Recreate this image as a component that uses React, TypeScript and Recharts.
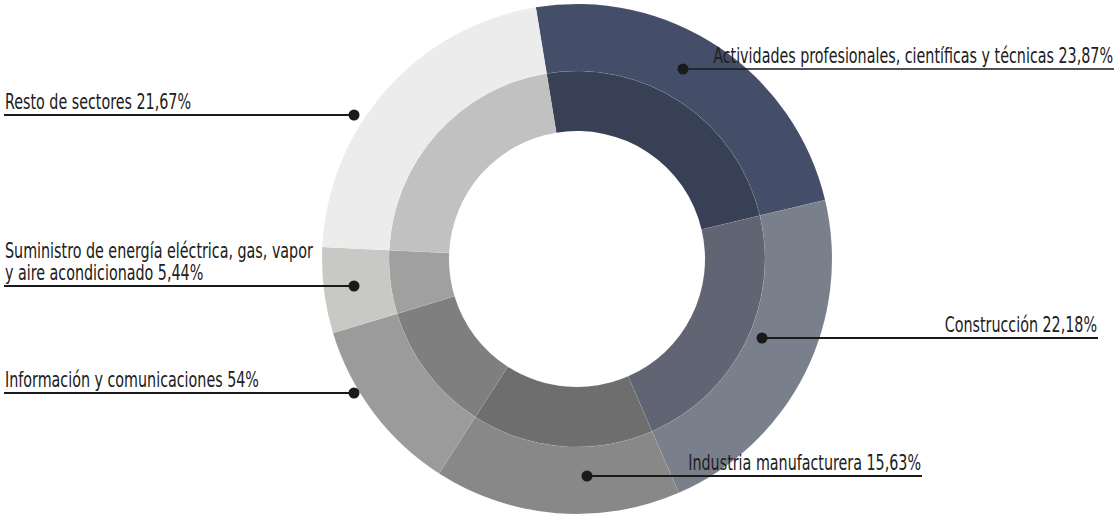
import { PieChart, Pie, Cell } from "recharts";

// sectores, en orden horario desde arriba
const categories = [
  "Actividades profesionales, científicas y técnicas",
  "Construcción",
  "Industria manufacturera",
  "Información y comunicaciones",
  "Suministro de energía eléctrica, gas, vapor y aire acondicionado",
  "Resto de sectores",
];
const shares = [23.87, 22.18, 15.63, 11.21, 5.44, 21.67];
const shareLabels = ["23,87%", "22,18%", "15,63%", "54%", "5,44%", "21,67%"];
// cómo se parte cada etiqueta en líneas
const labelLines = [
  ["Actividades profesionales, científicas y técnicas 23,87%"],
  ["Construcción 22,18%"],
  ["Industria manufacturera 15,63%"],
  ["Información y comunicaciones 54%"],
  ["Suministro de energía eléctrica, gas, vapor", "y aire acondicionado 5,44%"],
  ["Resto de sectores 21,67%"],
];

const OUTER_COLORS = ["#444e69", "#7a7f8c", "#888888", "#9b9b9b", "#c8c8c4", "#ececec"];
const INNER_COLORS = ["#374055", "#616573", "#6e6e6e", "#7f7f7f", "#a0a0a0", "#c1c1c1"];

// posición del punto respecto al centro y extremo de la línea
const LABEL_LAYOUT = [
  { dx: 106, dy: -190, side: "right", end: 1114, w: 1.5 },
  { dx: 185, dy: 79, side: "right", end: 1098, w: 2 },
  { dx: 10, dy: 217, side: "right", end: 922, w: 2 },
  { dx: -223, dy: 134, side: "left", end: 4, w: 2 },
  { dx: -223, dy: 27, side: "left", end: 4, w: 2 },
  { dx: -223, dy: -144, side: "left", end: 4, w: 2 },
];

// no hay fuente condensada instalada: se estrecha en horizontal
const FONT = "'DejaVu Sans Condensed', 'DejaVu Sans', sans-serif";
const FONT_SIZE = 20.5;
const SQUEEZE = 0.776;

const data = categories.map((name, i) => ({
  name,
  value: shares[i],
  label: shareLabels[i],
}));

function SectorLabel(props: any) {
  const { cx, cy, index } = props;
  const layout = LABEL_LAYOUT[index];
  const lines = labelLines[index];
  const x = cx + layout.dx;
  const y = cy + layout.dy;
  const right = layout.side === "right";
  const textX = right ? layout.end - 1 : layout.end + 1;
  return (
    <g>
      <line x1={x} y1={y} x2={layout.end} y2={y} stroke="#1a1a1a" strokeWidth={layout.w} />
      <circle cx={x} cy={y} r={5.5} fill="#1a1a1a" />
      {lines.map((t, k) => (
        <text
          key={k}
          x={0}
          y={0}
          transform={`translate(${textX} ${y - 6 - (lines.length - 1 - k) * 22}) scale(${SQUEEZE} 1)`}
          textAnchor={right ? "end" : "start"}
          fontFamily={FONT}
          fontSize={FONT_SIZE}
          fill="#202020"
        >
          {t}
        </text>
      ))}
    </g>
  );
}

export default function App() {
  return (
    <div style={{ position: "absolute", left: 0, top: 0, background: "#fff" }}>
      <PieChart width={1118} height={515} margin={{ top: 0, right: 0, bottom: 0, left: 0 }}>
        <Pie
          data={data}
          dataKey="value"
          cx={577}
          cy={259}
          innerRadius={128}
          outerRadius={188}
          startAngle={99.3}
          endAngle={-260.7}
          stroke="rgba(255,255,255,0.12)"
          strokeWidth={0.5}
          isAnimationActive={false}
        >
          {data.map((d, i) => (
            <Cell key={`in-${i}`} fill={INNER_COLORS[i]} />
          ))}
        </Pie>
        <Pie
          data={data}
          dataKey="value"
          cx={577}
          cy={259}
          innerRadius={188}
          outerRadius={255}
          startAngle={99.3}
          endAngle={-260.7}
          stroke="rgba(255,255,255,0.12)"
          strokeWidth={0.5}
          label={SectorLabel}
          labelLine={false}
          isAnimationActive={false}
        >
          {data.map((d, i) => (
            <Cell key={`out-${i}`} fill={OUTER_COLORS[i]} />
          ))}
        </Pie>
      </PieChart>
    </div>
  );
}
